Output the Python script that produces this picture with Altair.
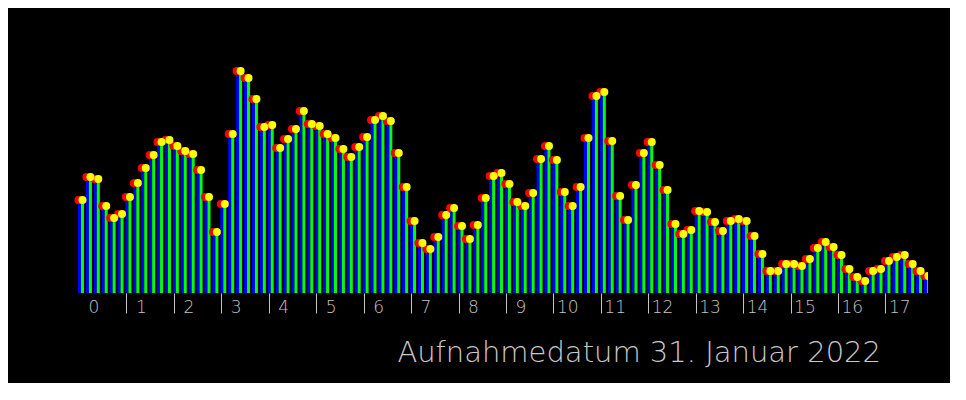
import altair as alt
import pandas as pd

# one reading every 10 minutes, from 0:00 on
counts = [
    93, 116, 114, 87, 75, 79, 96, 110, 125, 138, 151, 153,
    147, 142, 139, 123, 96, 61, 89, 159, 222, 215, 194, 166,
    168, 145, 154, 164, 182, 169, 167, 159, 155, 144, 136, 146,
    156, 173, 177, 172, 140, 106, 72, 50, 44, 56, 78, 85,
    67, 54, 68, 95, 117, 120, 109, 91, 87, 100, 134, 147,
    133, 101, 87, 106, 155, 197, 201, 152, 97, 73, 108, 140,
    151, 128, 103, 69, 59, 63, 82, 81, 71, 62, 72, 74,
    72, 57, 39, 22, 22, 29, 29, 27, 34, 45, 51, 46,
    38, 24, 16, 12, 22, 24, 32, 36, 38, 29, 22, 17,
]
hours = list(range(18))
caption = "Aufnahmedatum 31. Januar 2022"

df = pd.DataFrame({"count": counts})
df["t"] = df.index / 6

FONT = "DejaVu Sans"
GREY = "#c4c4c4"

x = alt.X(
    "t:Q",
    scale=alt.Scale(domain=[0, 854 / 48], nice=False, zero=False),
    axis=alt.Axis(
        values=hours,
        title=None,
        domain=False,
        grid=False,
        tickSize=20,
        tickWidth=1,
        tickColor={"condition": {"test": "datum.value == 0", "value": "transparent"}, "value": GREY},
        labelAlign="left",
        labelBaseline="alphabetic",
        labelPadding=-1,
        labelOffset={"condition": {"test": "datum.value < 10", "value": 9}, "value": 3},
        labelFlush=False,
        labelOverlap=False,
        labelFont=FONT,
        labelFontWeight=200,
        labelFontSize=17,
        labelColor=GREY,
    ),
)
y = alt.Y("count:Q", scale=alt.Scale(domain=[0, 250], nice=False), axis=None)

base = alt.Chart(df).encode(x=x, y=y)

blue = base.mark_bar(color="#0000ff", width=3, xOffset=0.5, clip=True)
green = base.mark_bar(color="#00ff00", width=3, xOffset=3.5, clip=True)
red = base.mark_circle(color="#ff0000", size=64, opacity=1, xOffset=-0.5, clip=True)
yellow = base.mark_circle(color="#ffff00", size=64, opacity=1, xOffset=3.5, clip=True)

chart = alt.layer(blue, green, red, yellow).properties(
    width=854,
    height=250,
    autosize=alt.AutoSizeParams(type="none"),
    padding={"left": 66, "top": 35, "right": 22, "bottom": 90},
    background="#000000",
    title=alt.TitleParams(
        caption,
        orient="bottom",
        anchor="end",
        dx=-47,
        offset=24,
        font=FONT,
        fontWeight=200,
        fontSize=29,
        color="#c8c8c8",
    ),
).configure_view(strokeWidth=0)

chart.save("out.html", embed_options={"renderer": "svg", "actions": False})
